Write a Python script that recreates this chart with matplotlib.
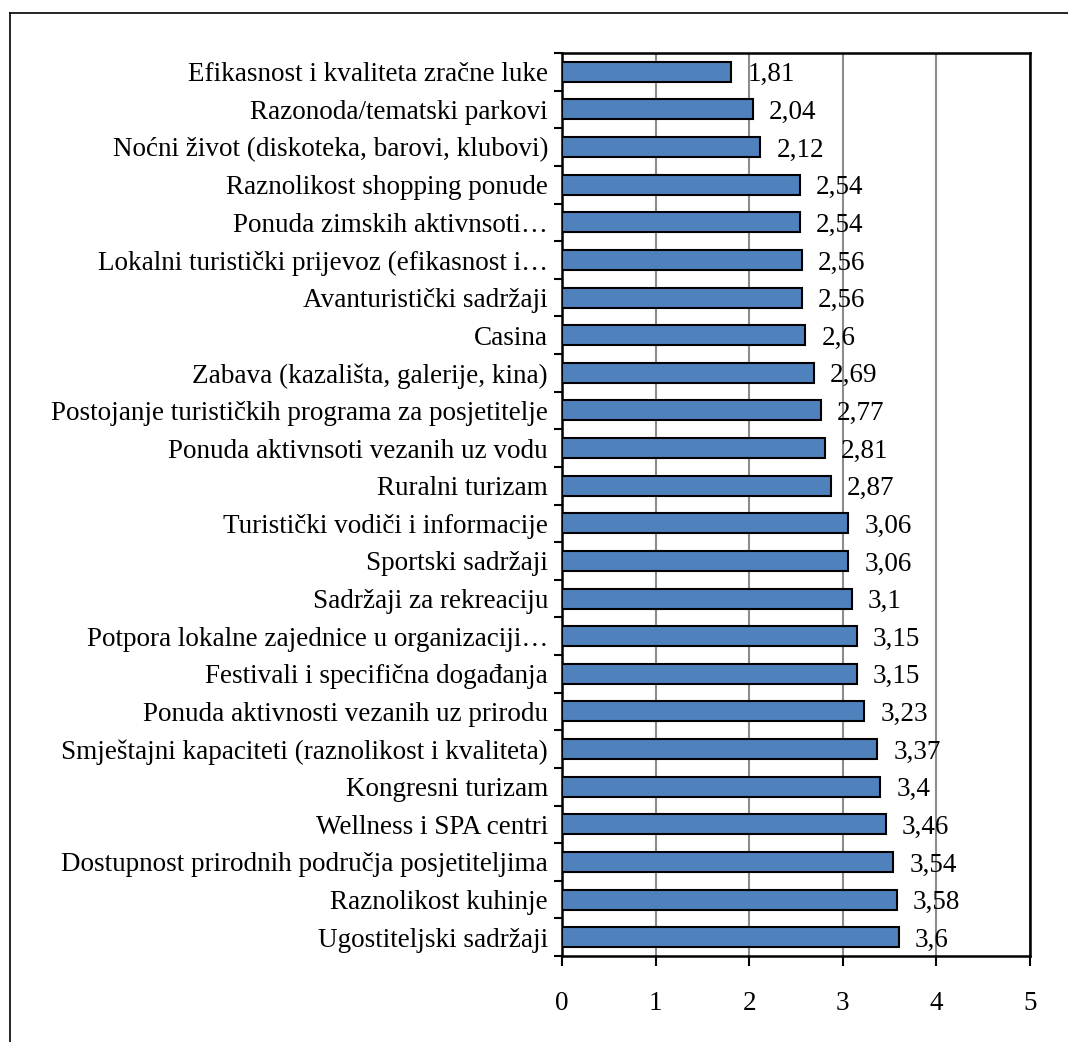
import matplotlib.pyplot as plt
from matplotlib.lines import Line2D
import numpy as np

plt.rcParams['font.family'] = ['Liberation Serif', 'DejaVu Serif']

categories = [
    'Efikasnost i kvaliteta zračne luke',
    'Razonoda/tematski parkovi',
    'Noćni život (diskoteka, barovi, klubovi)',
    'Raznolikost shopping ponude',
    'Ponuda zimskih aktivnsoti…',
    'Lokalni turistički prijevoz (efikasnost i…',
    'Avanturistički sadržaji',
    'Casina',
    'Zabava (kazališta, galerije, kina)',
    'Postojanje turističkih programa za posjetitelje',
    'Ponuda aktivnsoti vezanih uz vodu',
    'Ruralni turizam',
    'Turistički vodiči i informacije',
    'Sportski sadržaji',
    'Sadržaji za rekreaciju',
    'Potpora lokalne zajednice u organizaciji…',
    'Festivali i specifična događanja',
    'Ponuda aktivnosti vezanih uz prirodu',
    'Smještajni kapaciteti (raznolikost i kvaliteta)',
    'Kongresni turizam',
    'Wellness i SPA centri',
    'Dostupnost prirodnih područja posjetiteljima',
    'Raznolikost kuhinje',
    'Ugostiteljski sadržaji',
]
values = [1.81, 2.04, 2.12, 2.54, 2.54, 2.56, 2.56, 2.6, 2.69, 2.77, 2.81, 2.87,
          3.06, 3.06, 3.1, 3.15, 3.15, 3.23, 3.37, 3.4, 3.46, 3.54, 3.58, 3.6]
value_labels = ['1,81', '2,04', '2,12', '2,54', '2,54', '2,56', '2,56', '2,6', '2,69',
                '2,77', '2,81', '2,87', '3,06', '3,06', '3,1', '3,15', '3,15', '3,23',
                '3,37', '3,4', '3,46', '3,54', '3,58', '3,6']
xticks = [0, 1, 2, 3, 4, 5]

FS = 19.5
W, H = 1068, 1042
fig = plt.figure(figsize=(W / 100, H / 100), dpi=100)
ax = fig.add_axes([562 / W, 1 - 956 / H, (1030 - 562) / W, (956 - 53) / H])

y = np.arange(len(categories))
ax.barh(y, values, height=0.53, color='#4F81BD', edgecolor='black', linewidth=1.5, zorder=3)

for yi, v, lab in zip(y, values, value_labels):
    ax.text(v + 0.17, yi, lab, va='center_baseline', ha='left', fontsize=FS, zorder=4)

ax.set_ylim(len(categories) - 0.5, -0.5)
ax.set_xlim(0, 5)
ax.set_yticks(y)
ax.set_yticklabels(categories, fontsize=FS)
ax.set_yticks(np.arange(len(categories) + 1) - 0.5, minor=True)
ax.tick_params(axis='y', which='major', length=0, pad=10)
ax.tick_params(axis='y', which='minor', length=6, width=1.5, direction='out')
ax.set_xticks(xticks)
ax.set_xticklabels([str(t) for t in xticks], fontsize=FS)
ax.tick_params(axis='x', length=7, width=1.5, direction='out', pad=18)

ax.grid(axis='x', color='#8c8c8c', linewidth=1.5, zorder=0)
for s in ax.spines.values():
    s.set_linewidth(1.8)
    s.set_color('black')
ax.set_axisbelow(True)

# outer frame, only top and left edges visible
fig.add_artist(Line2D([9.5 / W, 9.5 / W], [0, 1 - 13 / H], color='black', linewidth=1.2))
fig.add_artist(Line2D([9.5 / W, 1], [1 - 13 / H, 1 - 13 / H], color='black', linewidth=1.2))

fig.savefig('out.png', dpi=100)
